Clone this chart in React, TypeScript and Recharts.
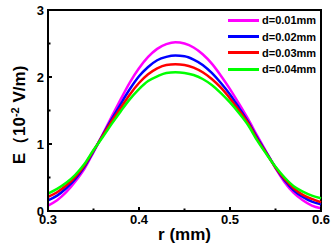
import React from "react";
import { LineChart, Line, XAxis, YAxis, ReferenceArea } from "recharts";

const rValues = [
  0.3, 0.31, 0.32, 0.33, 0.34, 0.35, 0.36, 0.37, 0.38, 0.39, 0.4, 0.41, 0.42, 0.43, 0.44, 0.45,
  0.46, 0.47, 0.48, 0.49, 0.5, 0.51, 0.52, 0.53, 0.54, 0.55, 0.56, 0.57, 0.58, 0.59, 0.6,
];
const d001 = [
  0.08, 0.16, 0.28, 0.44, 0.63, 0.88, 1.14, 1.41, 1.67, 1.92, 2.13, 2.3, 2.42, 2.49, 2.52, 2.5,
  2.44, 2.34, 2.2, 2.02, 1.82, 1.6, 1.37, 1.12, 0.88, 0.64, 0.43, 0.27, 0.16, 0.08, 0.04,
];
const d002 = [
  0.16, 0.23, 0.34, 0.48, 0.66, 0.89, 1.13, 1.37, 1.6, 1.82, 2.01, 2.15, 2.25, 2.3, 2.32, 2.31,
  2.26, 2.18, 2.06, 1.91, 1.74, 1.54, 1.33, 1.09, 0.87, 0.65, 0.46, 0.31, 0.21, 0.14, 0.1,
];
const d003 = [
  0.21, 0.28, 0.38, 0.51, 0.68, 0.9, 1.12, 1.34, 1.54, 1.74, 1.91, 2.04, 2.13, 2.18, 2.19, 2.18,
  2.14, 2.07, 1.97, 1.84, 1.68, 1.5, 1.31, 1.07, 0.86, 0.65, 0.48, 0.34, 0.24, 0.18, 0.13,
];
const d004 = [
  0.26, 0.33, 0.42, 0.54, 0.7, 0.91, 1.1, 1.3, 1.49, 1.67, 1.82, 1.94, 2.01, 2.06, 2.07, 2.06,
  2.03, 1.97, 1.88, 1.76, 1.62, 1.46, 1.28, 1.05, 0.85, 0.66, 0.5, 0.37, 0.29, 0.23, 0.19,
];

const seriesNames = ["d=0.01mm", "d=0.02mm", "d=0.03mm", "d=0.04mm"];
const seriesValues = [d001, d002, d003, d004];
const seriesColors = ["#ff00ff", "#0000ff", "#ff0000", "#00ff00"];

const xTicks = [0.3, 0.35, 0.4, 0.45, 0.5, 0.55, 0.6];
const yTicks = [0, 0.5, 1, 1.5, 2, 2.5, 3];

const data = rValues.map((r, i) => {
  const row: Record<string, number> = { r };
  seriesNames.forEach((name, k) => (row[name] = seriesValues[k][i]));
  return row;
});

const font = "'Liberation Sans', Arial, sans-serif";

const XTick = ({ x, y, payload }: any) => {
  const v = payload.value;
  const major = Math.round(v * 100) % 10 === 0;
  return (
    <g>
      <line x1={x} y1={y} x2={x} y2={y - (major ? 4 : 2.5)} stroke="#000" strokeWidth={2} />
      {major && (
        <text x={x} y={y + 12.5} textAnchor="middle" fontSize={13} fontWeight="bold" fontFamily={font} fill="#000">
          {v.toFixed(1)}
        </text>
      )}
    </g>
  );
};

const YTick = ({ x, y, payload }: any) => {
  const v = payload.value;
  const major = Number.isInteger(v);
  return (
    <g>
      <line x1={x} y1={y} x2={x + (major ? 4 : 2.5)} y2={y} stroke="#000" strokeWidth={2} />
      {major && (
        <text x={x - 4} y={y + 4.6} textAnchor="end" fontSize={13} fontWeight="bold" fontFamily={font} fill="#000">
          {v}
        </text>
      )}
    </g>
  );
};

const YLabel = ({ viewBox }: any) => {
  const x = 25;
  const cy = viewBox.y + viewBox.height / 2 + 4.5;
  return (
    <text
      x={x}
      y={cy}
      transform={`rotate(-90, ${x}, ${cy})`}
      textAnchor="middle"
      fontSize={17}
      fontWeight="bold"
      fontFamily={font}
      fill="#000"
    >
      E（10<tspan dy={-6} fontSize={11}>-2</tspan>
      <tspan dy={6}> V/m)</tspan>
    </text>
  );
};

const XLabel = ({ viewBox }: any) => (
  <text
    x={viewBox.x + viewBox.width / 2}
    y={viewBox.y + 29}
    textAnchor="middle"
    fontSize={17}
    fontWeight="bold"
    fontFamily={font}
    fill="#000"
  >
    r (mm)
  </text>
);

export default function App() {
  return (
    <div style={{ position: "absolute", left: 0, top: 0, width: 332, height: 246, background: "#fff" }}>
      <LineChart width={332} height={246} data={data} margin={{ top: 10, right: 11, left: 0, bottom: 0 }}>
        <XAxis
          dataKey="r"
          type="number"
          domain={[0.3, 0.6]}
          ticks={xTicks}
          height={35}
          tickSize={0}
          tickMargin={0}
          tickLine={false}
          axisLine={{ stroke: "#000", strokeWidth: 2 }}
          tick={<XTick />}
          interval={0}
          label={{ content: <XLabel /> }}
        />
        <YAxis
          type="number"
          domain={[0, 3]}
          ticks={yTicks}
          width={48}
          tickSize={0}
          tickMargin={0}
          tickLine={false}
          axisLine={{ stroke: "#000", strokeWidth: 2 }}
          tick={<YTick />}
          interval={0}
          label={{ content: <YLabel /> }}
        />
        <ReferenceArea x1={0.3} x2={0.6} y1={0} y2={3} fill="none" stroke="#000" strokeWidth={2} fillOpacity={0} />
        {seriesNames.map((name, k) => (
          <Line
            key={name}
            type="monotone"
            dataKey={name}
            stroke={seriesColors[k]}
            strokeWidth={2.5}
            dot={false}
            isAnimationActive={false}
          />
        ))}
      </LineChart>
      <div style={{ position: "absolute", left: 228, top: 12, fontFamily: font, fontSize: 11, fontWeight: "bold" }}>
        {seriesNames.map((name, k) => (
          <div key={name} style={{ display: "flex", alignItems: "center", height: 16.4 }}>
            <span style={{ display: "inline-block", width: 31, height: 3, background: seriesColors[k], marginRight: 3 }} />
            <span>{name}</span>
          </div>
        ))}
      </div>
    </div>
  );
}
